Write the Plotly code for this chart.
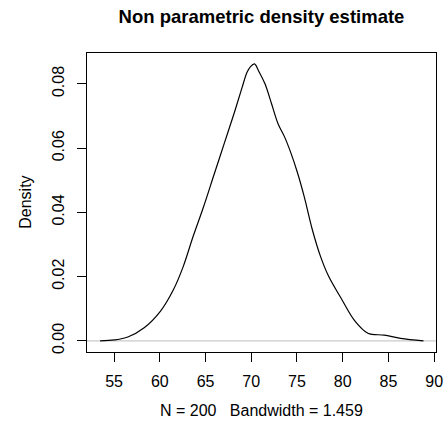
import plotly.graph_objects as go

# Density curve values
x_vals = [53.47, 55.07, 56.5, 58.29, 60.08, 61.5, 62.57, 63.64, 64.72, 65.97, 67.04,
          68.11, 69.0, 69.54, 69.9, 70.35, 70.79, 71.5, 72.22, 72.93, 73.64, 74.36,
          75.08, 75.79, 76.68, 77.57, 78.46, 79.9, 81.33, 82.75, 84.54, 86.33, 88.83]
density = [0.0000, 0.0003, 0.0012, 0.0041, 0.0093, 0.0160, 0.0232, 0.0325, 0.0412, 0.0521,
           0.0614, 0.0707, 0.0789, 0.0836, 0.0853, 0.0862, 0.0841, 0.0800, 0.0738, 0.0676,
           0.0635, 0.0583, 0.0521, 0.0449, 0.0346, 0.0263, 0.0201, 0.0129, 0.0062, 0.0024,
           0.0018, 0.0008, 0.0000]

x_ticks = [55, 60, 65, 70, 75, 80, 85, 90]
y_ticks = [0.00, 0.02, 0.04, 0.06, 0.08]
y_tick_labels = ["0.00", "0.02", "0.04", "0.06", "0.08"]

title_text = "Non parametric density estimate"
x_label = "N = 200   Bandwidth = 1.459"
y_label = "Density"

FONT = "Liberation Sans, Arial, Helvetica, sans-serif"
W, H = 448, 432
L, R, T, B = 87, 5, 53, 80
PW, PH = W - L - R, H - T - B

fig = go.Figure()
fig.add_trace(go.Scatter(
    x=x_vals, y=density, mode="lines",
    line=dict(color="black", width=1.2, shape="spline", smoothing=1.0),
    hoverinfo="skip", showlegend=False,
))

fig.add_shape(type="line", xref="paper", yref="y", x0=0, x1=1, y0=0, y1=0,
              line=dict(color="#BEBEBE", width=1), layer="below")

fig.update_layout(
    width=W, height=H,
    margin=dict(l=L, r=R, t=T, b=B, pad=0),
    paper_bgcolor="white", plot_bgcolor="white",
    font=dict(family=FONT, size=16, color="black"),
    title=dict(text="<b>" + title_text + "</b>", x=0.5, xref="paper",
               y=1 - 17 / H, yref="container", yanchor="middle",
               xanchor="center", font=dict(size=18.5, family=FONT, color="black")),
    xaxis=dict(range=[52.04, 90.2], tickvals=x_ticks, ticktext=[str(v) for v in x_ticks],
               showgrid=False, zeroline=False, showline=True, mirror=True,
               linecolor="black", linewidth=1, ticks="outside", ticklen=9,
               tickcolor="black", tickwidth=1, ticklabelstandoff=6,
               ticklabeloverflow="allow",
               tickfont=dict(size=16, family=FONT, color="black")),
    yaxis=dict(range=[-0.00345, 0.0896], tickvals=y_ticks, ticktext=y_tick_labels,
               showgrid=False, zeroline=False, showline=True, mirror=True,
               linecolor="black", linewidth=1, ticks="outside", ticklen=9,
               tickcolor="black", tickwidth=1, tickangle=-90, ticklabelstandoff=7,
               ticklabeloverflow="allow",
               tickfont=dict(size=16, family=FONT, color="black")),
    annotations=[
        dict(text=x_label, xref="paper", yref="paper", x=0.5, y=-(410 - (H - B)) / PH,
             xanchor="center", yanchor="middle", showarrow=False,
             font=dict(size=16, family=FONT, color="black")),
        dict(text=y_label, xref="paper", yref="paper", x=-(L - 24) / PW, y=0.5,
             xanchor="center", yanchor="middle", textangle=-90, showarrow=False,
             font=dict(size=16, family=FONT, color="black")),
    ],
)

fig.write_html("out.html", config={"displayModeBar": False, "staticPlot": True},
               post_script="document.body.style.margin='0';document.body.style.overflow='hidden';")
